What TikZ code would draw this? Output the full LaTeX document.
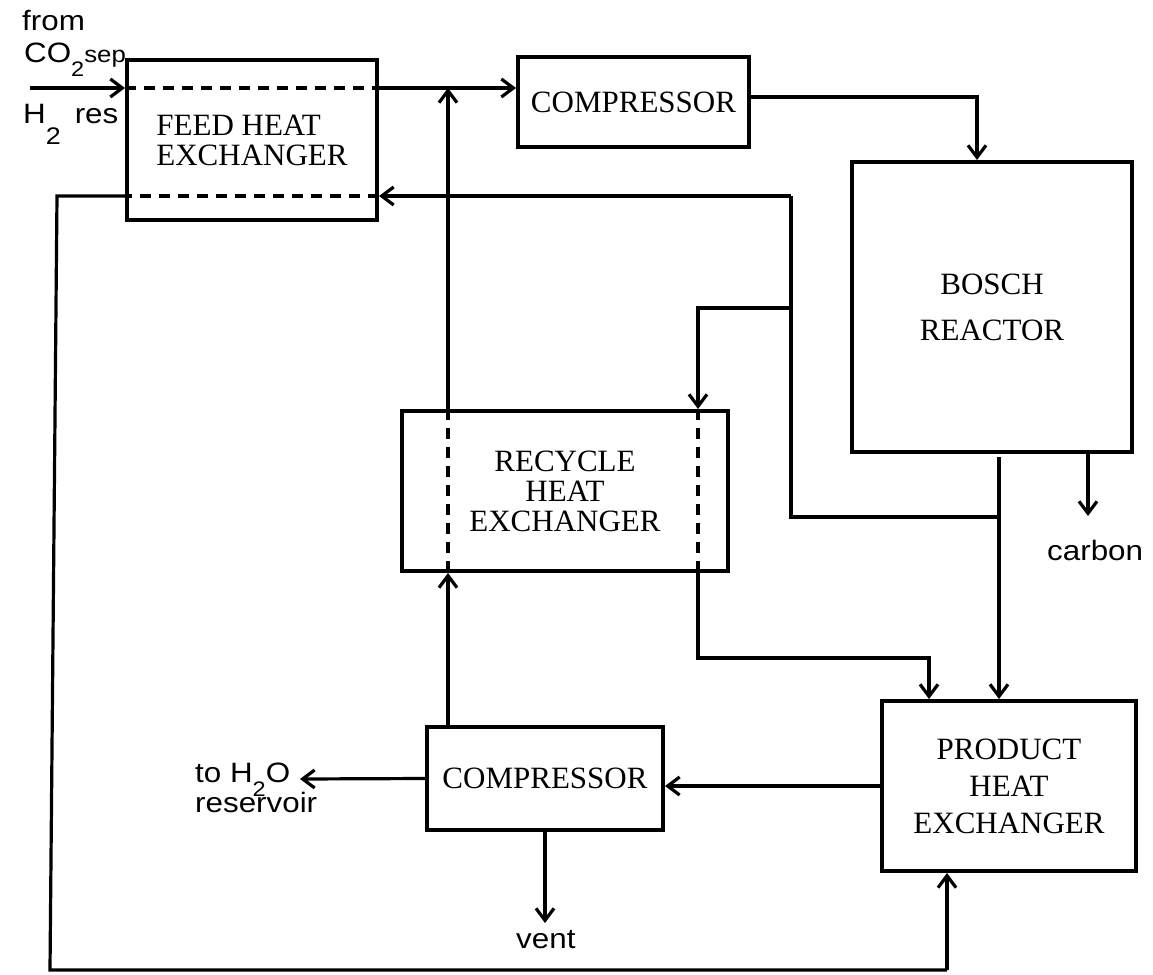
\documentclass[tikz,border=0pt]{standalone}
\usepackage{fontspec}
\setmainfont{Liberation Serif}
\newfontfamily\sansf[FakeStretch=1.12]{Liberation Sans}
\usetikzlibrary{arrows.meta}
\begin{document}
\begin{tikzpicture}[x=1pt,y=-1pt,
  box/.style={draw, line width=4pt, inner sep=0pt, align=center, font=\fontsize{31}{35}\selectfont},
  pipe/.style={line width=3.2pt},
  flow/.style={line width=3.2pt, -{Straight Barb[length=12pt,width=18pt,line width=3.2pt]}},
  hxline/.style={line width=3.2pt, dash pattern=on 11pt off 8pt},
  lab/.style={font=\sansf\fontsize{28}{30}\selectfont, inner sep=0pt, anchor=base west}]
\useasboundingbox (0,0) rectangle (1153,974);

% boxes
\node[box, align=left, minimum width=250pt, minimum height=160pt, font=\fontsize{31}{30}\selectfont] (feed) at (252,140) {FEED HEAT\\EXCHANGER};
\node[box, minimum width=231pt, minimum height=90pt] (comp1) at (633.5,102) {COMPRESSOR};
\node[box, minimum width=280pt, minimum height=290pt, font=\fontsize{31}{46}\selectfont] (bosch) at (992,307) {BOSCH\\REACTOR};
\node[box, minimum width=326pt, minimum height=160pt, font=\fontsize{31}{30}\selectfont] (recyc) at (565,491) {RECYCLE\\HEAT\\EXCHANGER};
\node[box, minimum width=254pt, minimum height=170pt, font=\fontsize{31}{37}\selectfont] (prod) at (1009,786) {PRODUCT\\HEAT\\EXCHANGER};
\node[box, minimum width=236pt, minimum height=103pt] (comp2) at (545,778.5) {COMPRESSOR};

% labels
\node[lab] (lfrom) at (22,31) {from};
\node[lab] (lco2) at (24,63) {CO\raisebox{-14pt}{\fontsize{21}{21}\selectfont 2}{\fontsize{23}{23}\selectfont sep}};
\node[lab] (lh2) at (23,123) {H\raisebox{-21pt}{\fontsize{24}{24}\selectfont 2}\hspace{14pt}res};
\node[lab] (lh2o) at (195,782) {to H\raisebox{-14pt}{\fontsize{21}{21}\selectfont 2}O};
\node[lab] (lres) at (195,812) {reservoir};
\node[lab] (lvent) at (516,948) {vent};
\node[lab] (lcarb) at (1047,560) {carbon};

% coordinates
\coordinate (src) at (30,88);
\coordinate (rl) at (448,0);
\coordinate (rr) at (698,0);
\coordinate (j1) at (791,196);
\coordinate (j2) at (791,308);
\coordinate (j3) at (791,517);
\coordinate (bo) at (999,457);
\coordinate (ll) at (57,196);
\coordinate (lb) at (50,970);
\coordinate (pb) at (947,970);
\coordinate (pa) at (929,658);
\coordinate (h2o) at (300,779);
\coordinate (ventc) at (545,923);
\coordinate (cb) at (1088,516);

% feed line
\draw[flow] (src) -- (feed.west |- src);
\draw[hxline] (feed.west |- src) -- (feed.east |- src);
\draw[flow] (feed.east |- src) -- (comp1.west |- src);

% recycle cold side up
\draw[flow] (recyc.north -| rl) -- (src -| rl);
\draw[hxline] (recyc.north -| rl) -- (recyc.south -| rl);
\draw[flow] (comp2.north -| rl) -- (recyc.south -| rl);

% compressor to Bosch
\draw[flow] ([yshift=5pt]comp1.east) -| ([xshift=-15pt]bosch.north);

% return line
\draw[flow] (j1) -- (feed.east |- j1);
\draw[hxline] (feed.east |- j1) -- (feed.west |- j1);
\draw[pipe] (feed.west |- j1) -- (ll) -- (lb) -- (pb);
\draw[flow] (pb) -- (prod.south -| pb);
\draw[pipe] (j1) -- (j3) -- (j3 -| bo);
\draw[flow] (bo) -- (prod.north -| bo);
\draw[flow] (j2) -| (recyc.north -| rr);
\draw[hxline] (recyc.north -| rr) -- (recyc.south -| rr);
\draw[flow] (recyc.south -| rr) |- (pa) -- (prod.north -| pa);

% product to compressor
\draw[flow] (prod.west) -- (comp2.east |- prod.west);
\draw[flow] (comp2.west) -- (h2o);
\draw[flow] (comp2.south) -- (ventc);
\draw[flow] (bosch.south -| cb) -- (cb);
\end{tikzpicture}
\end{document}
